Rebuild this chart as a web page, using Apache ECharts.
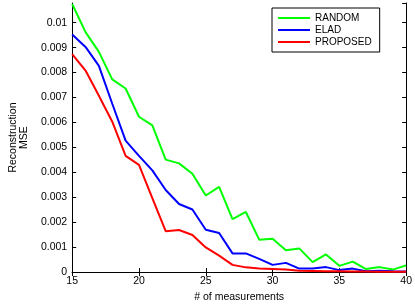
<!DOCTYPE html>
<html lang="en">
<head>
    <meta charset="UTF-8">
    <title>MSE</title>
    <script src="https://cdn.jsdelivr.net/npm/echarts@6/dist/echarts.min.js"></script>
    <style>
        html, body { margin: 0; padding: 0; background: #fff; }
        #main { width: 415px; height: 308px; }
    </style>
</head>
<body>
<div id="main"></div>
<script type="text/javascript">
    // # of measurements
    var measurements = [15, 16, 17, 18, 19, 20, 21, 22, 23, 24, 25, 26, 27, 28, 29, 30, 31, 32, 33, 34, 35, 36, 37, 38, 39, 40];

    var randomMse = [0.01075, 0.00962, 0.00883, 0.00773, 0.00736, 0.00623, 0.00588, 0.00451, 0.00436, 0.00394,
        0.00307, 0.00342, 0.00212, 0.00241, 0.00130, 0.00134, 0.00088, 0.00095, 0.00040, 0.00071,
        0.00025, 0.00042, 0.00012, 0.00020, 0.00010, 0.00027];
    var eladMse = [0.00953, 0.00903, 0.00827, 0.00675, 0.00527, 0.00466, 0.00408, 0.00329, 0.00273, 0.00251,
        0.00170, 0.00157, 0.00075, 0.00075, 0.00053, 0.00029, 0.00037, 0.00014, 0.00014, 0.00020,
        0.00008, 0.00014, 0.00003, 0.00005, 0.00003, 0.00002];
    var proposedMse = [0.00874, 0.00808, 0.00707, 0.00603, 0.00466, 0.00430, 0.00297, 0.00164, 0.00169, 0.00149,
        0.00099, 0.00066, 0.00029, 0.00019, 0.00014, 0.00012, 0.00010, 0.00005, 0.00004, 0.00003,
        0.00003, 0.00002, 0.00002, 0.00001, 0.00001, 0.00001];

    function pairs(vals) {
        var out = [];
        for (var i = 0; i < vals.length; i++) {
            out.push([measurements[i], vals[i]]);
        }
        return out;
    }

    var font = 'Liberation Sans, Arial, Helvetica, sans-serif';
    var yMax = 0.01079;
    var axisCommon = {
        axisLine: { lineStyle: { color: '#000', width: 1 } },
        axisTick: { inside: true, length: 4, lineStyle: { color: '#000' } },
        splitLine: { show: false }
    };

    var myChart = echarts.init(document.getElementById('main'), null, { renderer: 'canvas' });

    var option = {
        animation: false,
        backgroundColor: '#fff',
        textStyle: { fontFamily: font },
        grid: { left: 65, right: 3, top: 3, bottom: 32 },
        legend: {
            orient: 'vertical',
            left: 272,
            top: 8,
            padding: [4, 8, 4, 6],
            itemGap: 0,
            itemWidth: 32,
            itemHeight: 2,
            itemTextGap: 3,
            icon: 'rect',
            borderColor: '#000',
            borderWidth: 1,
            backgroundColor: '#fff',
            textStyle: { fontFamily: font, fontSize: 10, lineHeight: 12, color: '#000' },
            data: ['RANDOM', 'ELAD', 'PROPOSED']
        },
        xAxis: [
            Object.assign({
                type: 'value', min: 15, max: 40, interval: 5,
                name: '# of measurements',
                nameLocation: 'middle',
                nameGap: 19,
                nameTextStyle: { fontFamily: font, fontSize: 10.5, color: '#000' },
                axisLabel: { fontFamily: font, fontSize: 10.5, color: '#000', margin: 4 }
            }, axisCommon),
            Object.assign({
                type: 'value', min: 15, max: 40, interval: 5, position: 'top',
                axisLabel: { show: false }
            }, axisCommon)
        ],
        yAxis: [
            Object.assign({
                type: 'value', min: 0, max: yMax, interval: 0.001,
                name: 'Reconstruction\nMSE',
                nameLocation: 'middle',
                nameRotate: 90,
                nameGap: 37,
                nameTextStyle: { fontFamily: font, fontSize: 10.5, color: '#000', lineHeight: 11 },
                axisLabel: {
                    fontFamily: font, fontSize: 10.5, color: '#000', margin: 5,
                    showMaxLabel: false,
                    formatter: function (v) { return String(parseFloat(v.toFixed(4))); }
                }
            }, axisCommon),
            Object.assign({
                type: 'value', min: 0, max: yMax, interval: 0.001, position: 'right',
                axisLabel: { show: false }
            }, axisCommon)
        ],
        series: [
            {
                name: 'RANDOM', type: 'line', symbol: 'none',
                color: '#00ff00', lineStyle: { color: '#00ff00', width: 2 },
                data: pairs(randomMse)
            },
            {
                name: 'ELAD', type: 'line', symbol: 'none',
                color: '#0000ff', lineStyle: { color: '#0000ff', width: 2 },
                data: pairs(eladMse)
            },
            {
                name: 'PROPOSED', type: 'line', symbol: 'none',
                color: '#ff0000', lineStyle: { color: '#ff0000', width: 2 },
                data: pairs(proposedMse)
            }
        ]
    };

    myChart.setOption(option);
</script>
</body>
</html>
